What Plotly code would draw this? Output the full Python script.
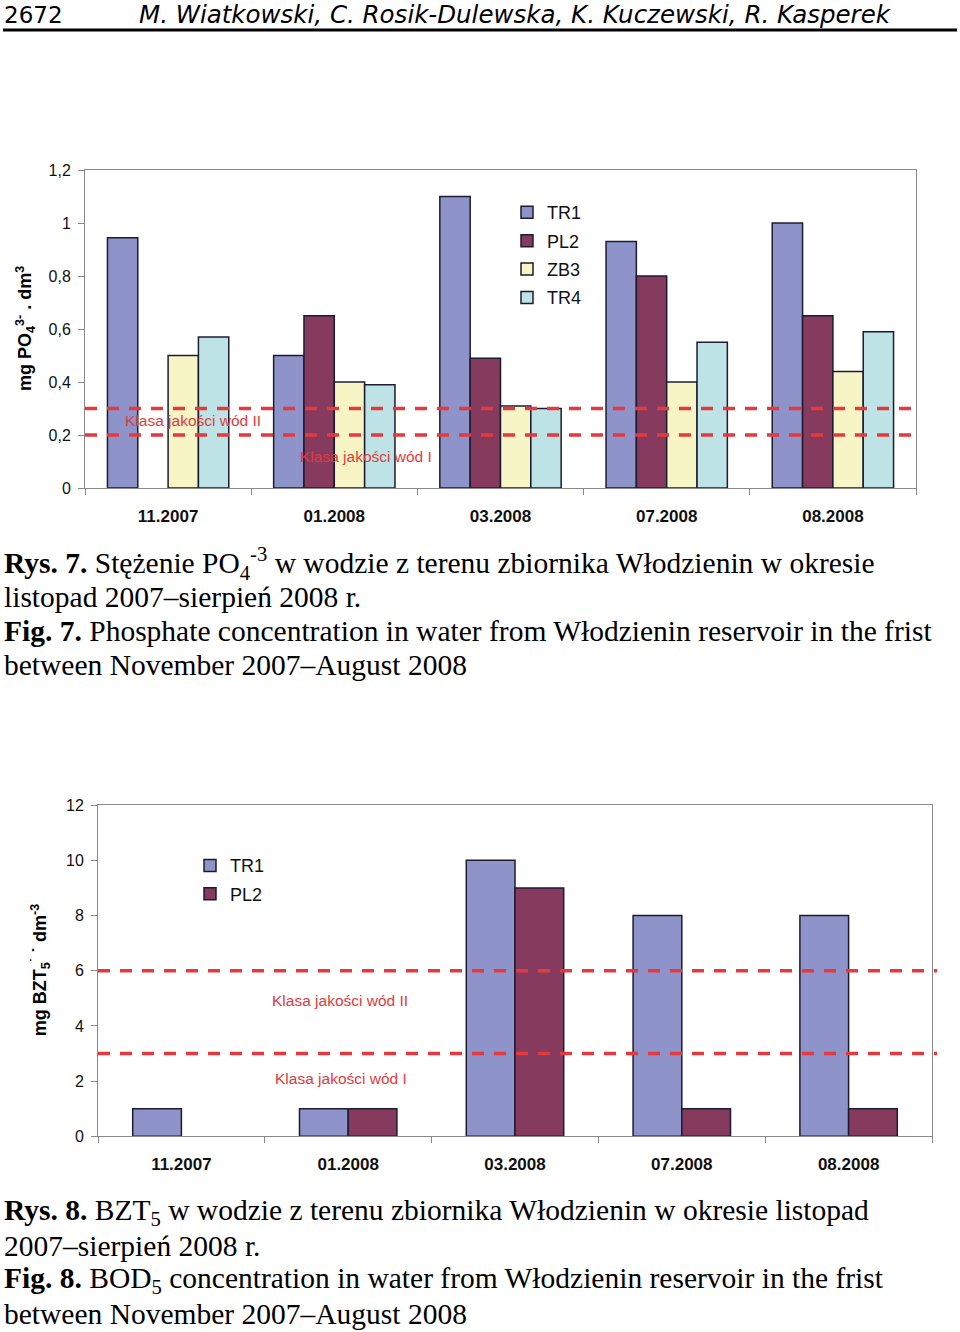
import plotly.graph_objects as go

W, H = 960, 1332

# ---------------- data ----------------
months = ["11.2007", "01.2008", "03.2008", "07.2008", "08.2008"]

po4_TR1 = [0.945, 0.50, 1.10, 0.93, 1.00]
po4_PL2 = [None, 0.65, 0.49, 0.80, 0.65]
po4_ZB3 = [0.50, 0.40, 0.31, 0.40, 0.44]
po4_TR4 = [0.57, 0.39, 0.30, 0.55, 0.59]
po4_limits = [0.3, 0.2]
po4_ticks = [0, 0.2, 0.4, 0.6, 0.8, 1.0, 1.2]

bzt_TR1 = [1, 1, 10, 8, 8]
bzt_PL2 = [None, 1, 9, 1, 1]
bzt_limits = [6, 3]
bzt_ticks = [0, 2, 4, 6, 8, 10, 12]

# ---------------- styles ----------------
COL = {"TR1": "#8e93c9", "PL2": "#853a5e", "ZB3": "#f7f4c6", "TR4": "#bde3e6"}
EDGE = dict(color="#1c1c30", width=1.5)
RED = "#e23a3e"
SANS = "Liberation Sans, Arial, sans-serif"
WIDE = "DejaVu Sans, Liberation Sans, sans-serif"
SERIF = "Liberation Serif, Times New Roman, serif"

# vertical placement helper (compensates the capture's vertical offset/scale)
VOFF, VSCALE = 8.0, 0.987


def py(px):
    return 1 - ((px - VOFF) / VSCALE) / H


def pxx(px):
    return px / W


fig = go.Figure()

# chart 1 (PO4)
for name, vals in [("TR1", po4_TR1), ("PL2", po4_PL2), ("ZB3", po4_ZB3), ("TR4", po4_TR4)]:
    fig.add_trace(go.Bar(x=months, y=vals, name=name, marker=dict(color=COL[name], line=EDGE),
                         xaxis="x", yaxis="y", legend="legend", legendgroup="a" + name))

# chart 2 (BZT5)
bw = 0.292
for name, vals, off in [("TR1", bzt_TR1, -bw), ("PL2", bzt_PL2, 0)]:
    fig.add_trace(go.Bar(x=months, y=vals, name=name, marker=dict(color=COL[name], line=EDGE),
                         width=bw, offset=off, xaxis="x2", yaxis="y2", legend="legend2",
                         legendgroup="b" + name))

axis_common = dict(showline=True, linecolor="#8a8a8a", linewidth=1, mirror=True,
                   ticks="outside", tickcolor="#8a8a8a", ticklen=6, showgrid=False,
                   zeroline=False)

fig.update_layout(
    width=W, height=H, margin=dict(l=0, r=0, t=0, b=0),
    paper_bgcolor="white", plot_bgcolor="white",
    barmode="group", bargap=0.27, bargroupgap=0,
    separators=", ",
    font=dict(family=SANS, color="#111"),
    xaxis=dict(domain=[pxx(85), pxx(916)], anchor="y", type="category", tickson="boundaries",
               tickfont=dict(size=17, family=SANS, color="#111"), ticklabelstandoff=12,
               **axis_common),
    yaxis=dict(domain=[py(488), py(170)], anchor="x", range=[0, 1.2], tickvals=po4_ticks,
               tickfont=dict(size=16, color="#111"), ticklabelstandoff=4, **axis_common),
    xaxis2=dict(domain=[pxx(98), pxx(932)], anchor="y2", type="category", tickson="boundaries",
                tickfont=dict(size=17, family=SANS, color="#111"), ticklabelstandoff=12,
                **axis_common),
    yaxis2=dict(domain=[py(1136), py(805)], anchor="x2", range=[0, 12], tickvals=bzt_ticks,
                tickfont=dict(size=16, color="#111"), ticklabelstandoff=4, **axis_common),
    legend=dict(x=pxx(507), y=py(194), xanchor="left", yanchor="top",
                font=dict(size=18, family=SANS, color="#111"), bgcolor="rgba(0,0,0,0)",
                traceorder="grouped", tracegroupgap=2),
    legend2=dict(x=pxx(190), y=py(847), xanchor="left", yanchor="top",
                 font=dict(size=18, family=SANS, color="#111"), bgcolor="rgba(0,0,0,0)",
                 traceorder="grouped", tracegroupgap=2),
)

# bold category labels
fig.update_xaxes(tickprefix="<b>", ticksuffix="</b>")

# threshold lines
shapes = []
for v in po4_limits:
    shapes.append(dict(type="line", xref="x domain", yref="y", x0=0, x1=1, y0=v, y1=v,
                       line=dict(color=RED, width=3.5, dash="12px,10px")))
for v in bzt_limits:
    shapes.append(dict(type="line", xref="x2 domain", yref="y2", x0=0, x1=1.006, y0=v, y1=v,
                       line=dict(color=RED, width=3.5, dash="12px,10px")))
# header rule
shapes.append(dict(type="line", xref="paper", yref="paper", x0=pxx(3), x1=pxx(957),
                   y0=py(30), y1=py(30), line=dict(color="#000", width=3)))
fig.update_layout(shapes=shapes)

ann = []


def text(x, y, s, size, family=SANS, color="#000", xanchor="left", angle=0):
    ann.append(dict(x=pxx(x), y=py(y), xref="paper", yref="paper", text=s, showarrow=False,
                    xanchor=xanchor, yanchor="middle", textangle=angle, borderpad=0,
                    font=dict(size=size, family=family, color=color)))


# header
text(3, 14.5, "2672", 23, WIDE)
text(138, 14.5, "<i>M. Wiatkowski, C. Rosik-Dulewska, K. Kuczewski, R. Kasperek</i>", 24.5, WIDE)

# class labels
text(193, 420, "Klasa jakości wód II", 15.5, color=RED, xanchor="center")
text(366, 456, "Klasa jakości wód I", 15.5, color=RED, xanchor="center")
text(340, 1000, "Klasa jakości wód II", 15.5, color=RED, xanchor="center")
text(341, 1078, "Klasa jakości wód I", 15.5, color=RED, xanchor="center")

# y-axis titles
text(25, 329, "<b>mg PO<sub>4</sub><sup>3-</sup> . dm<sup>3</sup></b>", 18, xanchor="center", angle=-90)
text(40, 970, "<b>mg BZT<sub>5</sub><sup>˙</sup> ˙ dm<sup>-3</sup></b>", 18, xanchor="center", angle=-90)

# captions
cap = 29.5
text(3, 563, "<b>Rys. 7.</b> Stężenie PO<sub>4</sub><sup>-3</sup> w wodzie z terenu zbiornika Włodzienin w okresie", cap, SERIF)
text(3, 597, "listopad 2007–sierpień 2008 r.", cap, SERIF)
text(3, 631, "<b>Fig. 7.</b> Phosphate concentration in water from Włodzienin reservoir in the frist", cap, SERIF)
text(3, 665, "between November 2007–August 2008", cap, SERIF)

text(3, 1212, "<b>Rys. 8.</b> BZT<sub>5</sub> w wodzie z terenu zbiornika Włodzienin w okresie listopad", cap, SERIF)
text(3, 1246, "2007–sierpień 2008 r.", cap, SERIF)
text(3, 1280, "<b>Fig. 8.</b> BOD<sub>5</sub> concentration in water from Włodzienin reservoir in the frist", cap, SERIF)
text(3, 1314, "between November 2007–August 2008", cap, SERIF)

fig.update_layout(annotations=ann)

post = (
    "document.documentElement.style.margin='0';"
    "document.documentElement.style.padding='0';"
    "document.body.style.margin='0';document.body.style.padding='0';"
    "document.body.style.overflow='hidden';"
    "var gd=document.getElementById('{plot_id}');"
    "gd.style.position='absolute';gd.style.top='0px';gd.style.left='0px';"
)
fig.write_html("out.html", config={"displayModeBar": False}, post_script=post)
